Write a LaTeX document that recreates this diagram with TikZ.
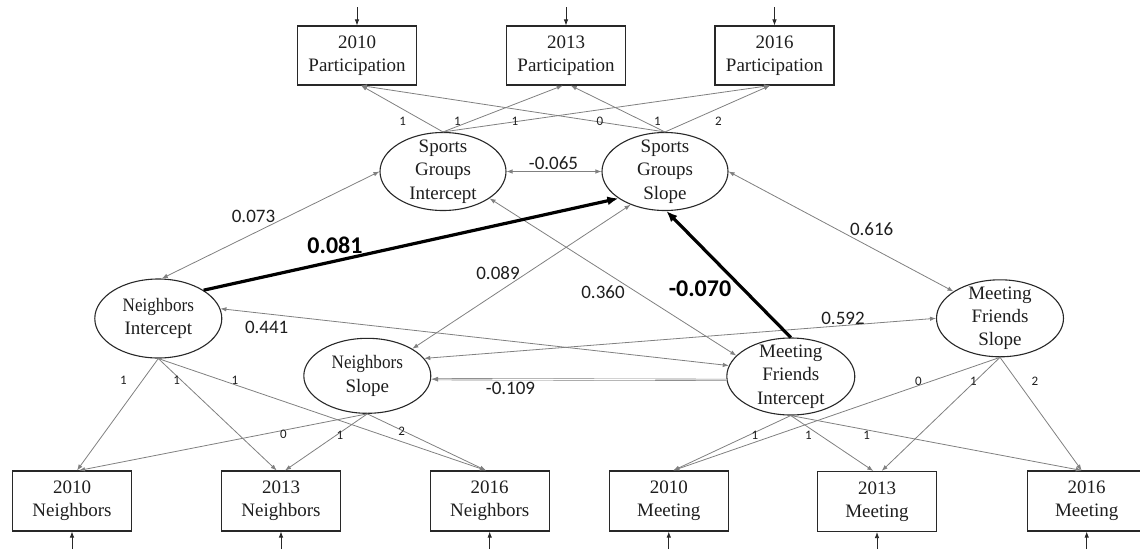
\documentclass[tikz,border=0pt]{standalone}
\usepackage{fontspec}
\usepackage{graphicx}
\setmainfont{Liberation Serif}
\newfontfamily\lblfont{Carlito}
\usetikzlibrary{arrows.meta,shapes.geometric,calc}
\definecolor{lnc}{RGB}{128,128,128}
\definecolor{bdc}{RGB}{40,40,40}
\definecolor{txc}{RGB}{30,30,30}
\tikzset{
  obs/.style={draw=bdc, line width=1.1pt, rectangle, minimum width=119pt, minimum height=59pt,
    inner sep=0pt, align=center, font=\fontsize{19}{23.3}\selectfont, text=txc},
  lat/.style={draw=bdc, line width=1.1pt, ellipse, inner sep=-20pt, align=center,
    font=\fontsize{19}{23.3}\selectfont, text=txc},
  thinln/.style={draw=lnc, line width=0.8pt},
  cov/.style={thinln, {Latex[length=6pt,width=4.5pt]}-{Latex[length=6pt,width=4.5pt]}},
  load/.style={thinln, -{Latex[length=6pt,width=4.5pt]}},
  regthin/.style={draw=lnc, line width=0.6pt, double=white, double distance=0.9pt, -{Latex[length=7pt,width=5pt]}},
  reg/.style={draw=black, line width=3.2pt, -{Latex[length=11pt,width=9pt]}},
  err/.style={draw=bdc, line width=0.8pt, -{Latex[length=6pt,width=4.5pt]}},
  num/.style={font=\lblfont\fontsize{19}{22}\selectfont, text=txc, inner sep=0pt},
  bnum/.style={font=\lblfont\bfseries\fontsize{24}{28}\selectfont, text=black, inner sep=0pt},
  sml/.style={font=\lblfont\fontsize{13}{15}\selectfont, text=txc, inner sep=0pt},
}
\begin{document}
\begin{tikzpicture}[x=1pt,y=-1pt]
\useasboundingbox (0,0) rectangle (1140,549);

% observed indicators (top)
\node[obs] (p10) at (357,55.5) {2010\\Participation};
\node[obs] (p13) at (566,55.5) {2013\\Participation};
\node[obs] (p16) at (774.5,55.5) {2016\\Participation};

% latent growth factors
\node[lat, minimum width=126pt, minimum height=78pt] (sgi) at (443,171.5) {Sports\\Groups\\Intercept};
\node[lat, minimum width=126pt, minimum height=78pt] (sgs) at (665,171.5) {Sports\\Groups\\Slope};
\node[lat, minimum width=127pt, minimum height=79pt] (ni) at (158.3,318.5) {\scalebox{0.9}[1]{Neighbors}\\Intercept};
\node[lat, minimum width=127pt, minimum height=75pt] (ns) at (367.3,375.8) {\scalebox{0.9}[1]{Neighbors}\\Slope};
\node[lat, minimum width=128pt, minimum height=77pt] (mfi) at (790.8,376.5) {Meeting\\Friends\\Intercept};
\node[lat, minimum width=127pt, minimum height=77pt] (mfs) at (1000,318.3) {Meeting\\Friends\\Slope};

% observed indicators (bottom)
\node[obs, minimum height=60pt] (n10) at (72,501) {2010\\Neighbors};
\node[obs, minimum height=60pt] (n13) at (281,501) {2013\\Neighbors};
\node[obs, minimum height=60pt] (n16) at (489.7,501) {2016\\Neighbors};
\node[obs, minimum height=60pt] (m10) at (668.8,501) {2010\\Meeting};
\node[obs, minimum height=60pt] (m13) at (877,501.5) {2013\\Meeting};
\node[obs, minimum height=60pt] (m16) at (1086.7,501) {2016\\Meeting};

% error terms
\coordinate (ep10) at (357,7);
\coordinate (ep13) at (566,7);
\coordinate (ep16) at (774.5,7);
\coordinate (en10) at (72,549);
\coordinate (en13) at (281,549);
\coordinate (en16) at (489.7,549);
\coordinate (em10) at (668.8,549);
\coordinate (em13) at (877,549);
\coordinate (em16) at (1086.7,549);
\draw[err] (ep10) -- (p10.north);
\draw[err] (ep13) -- (p13.north);
\draw[err] (ep16) -- (p16.north);
\draw[err] (en10) -- (n10.south);
\draw[err] (en13) -- (n13.south);
\draw[err] (en16) -- (n16.south);
\draw[err] (em10) -- (m10.south);
\draw[err] (em13) -- (m13.south);
\draw[err] (em16) -- (m16.south);

% loadings: sports groups
\draw[load] (sgi.north) -- ($(p10.south)+(4,0)$);
\draw[load] (sgi.north) -- ($(p13.south)+(-3.3,0)$);
\draw[load] (sgi.north) -- ($(p16.south)+(-4.5,0)$);
\draw[load] (sgs.north) -- ($(p10.south)+(4,0)$);
\draw[load] (sgs.north) -- ($(p13.south)+(4.7,0)$);
\draw[load] (sgs.north) -- ($(p16.south)+(-4.5,0)$);
\node[sml] (ls1) at (402.7,121.7) {1};
\node[sml] (ls2) at (457.3,121.7) {1};
\node[sml] (ls3) at (515,121.7) {1};
\node[sml] (ls4) at (600,121.7) {0};
\node[sml] (ls5) at (657.3,121.7) {1};
\node[sml] (ls6) at (718.3,121.7) {2};

% loadings: neighbors
\draw[load] (ni.south) -- ($(n10.north)+(5,0)$);
\draw[load] (ni.south) -- ($(n13.north)+(-4.3,0)$);
\draw[load] (ni.south) -- ($(n16.north)+(-3.7,0)$);
\draw[load] (ns.south) -- ($(n10.north)+(7,0)$);
\draw[load] (ns.south) -- ($(n13.north)+(4,0)$);
\draw[load] (ns.south) -- ($(n16.north)+(-3.7,0)$);
\node[sml] (ln1) at (123.3,380) {1};
\node[sml] (ln2) at (176.7,380) {1};
\node[sml] (ln3) at (235,380) {1};
\node[sml] (ln4) at (283.3,434.3) {0};
\node[sml] (ln5) at (340,435) {1};
\node[sml] (ln6) at (401.7,431.7) {2};

% loadings: meeting friends
\draw[load] (mfi.south) -- ($(m10.north)+(4.5,0)$);
\draw[load] (mfi.south) -- ($(m13.north)+(-3.7,0)$);
\draw[load] (mfi.south) -- ($(m16.north)+(-5,0)$);
\draw[load] (mfs.south) -- ($(m10.north)+(4.5,0)$);
\draw[load] (mfs.south) -- ($(m13.north)+(4.7,0)$);
\draw[load] (mfs.south) -- ($(m16.north)+(-5,0)$);
\node[sml] (lm1) at (755,435) {1};
\node[sml] (lm2) at (808.3,435) {1};
\node[sml] (lm3) at (866.7,435) {1};
\node[sml] (lm4) at (918.3,381) {0};
\node[sml] (lm5) at (973.3,381) {1};
\node[sml] (lm6) at (1035,381) {2};

% covariances
\draw[cov] (sgi.east) -- (sgs.west);
\draw[cov] (sgi.180) -- (ni.85);
\draw[cov] (sgs.east) -- (mfs.150);
\draw[cov] (sgs.224) -- (ns.31);
\draw[cov] (sgi.330) -- (mfi.159);
\draw[cov] (ni.9) -- (mfi.170);
\draw[cov] (ns.17) -- (mfs.west);

% regressions
\draw[regthin] (mfi.183) -- (ns.357);
\draw[reg] (ni.32) -- (sgs.210);
\draw[reg] (mfi.north) -- (sgs.272);

% coefficient labels
\node[num] (c065) at (553.5,163) {-0.065};
\node[num] (c073) at (253.5,216) {0.073};
\node[num] (c616) at (871.7,229) {0.616};
\node[num] (c089) at (498,273) {0.089};
\node[num] (c360) at (603,292) {0.360};
\node[num] (c441) at (266.7,327) {0.441};
\node[num] (c592) at (843,318) {0.592};
\node[num] (c109) at (510.5,388) {-0.109};
\node[bnum] (c081) at (335,245) {0.081};
\node[bnum] (c070) at (700,288.5) {-0.070};
\end{tikzpicture}
\end{document}
